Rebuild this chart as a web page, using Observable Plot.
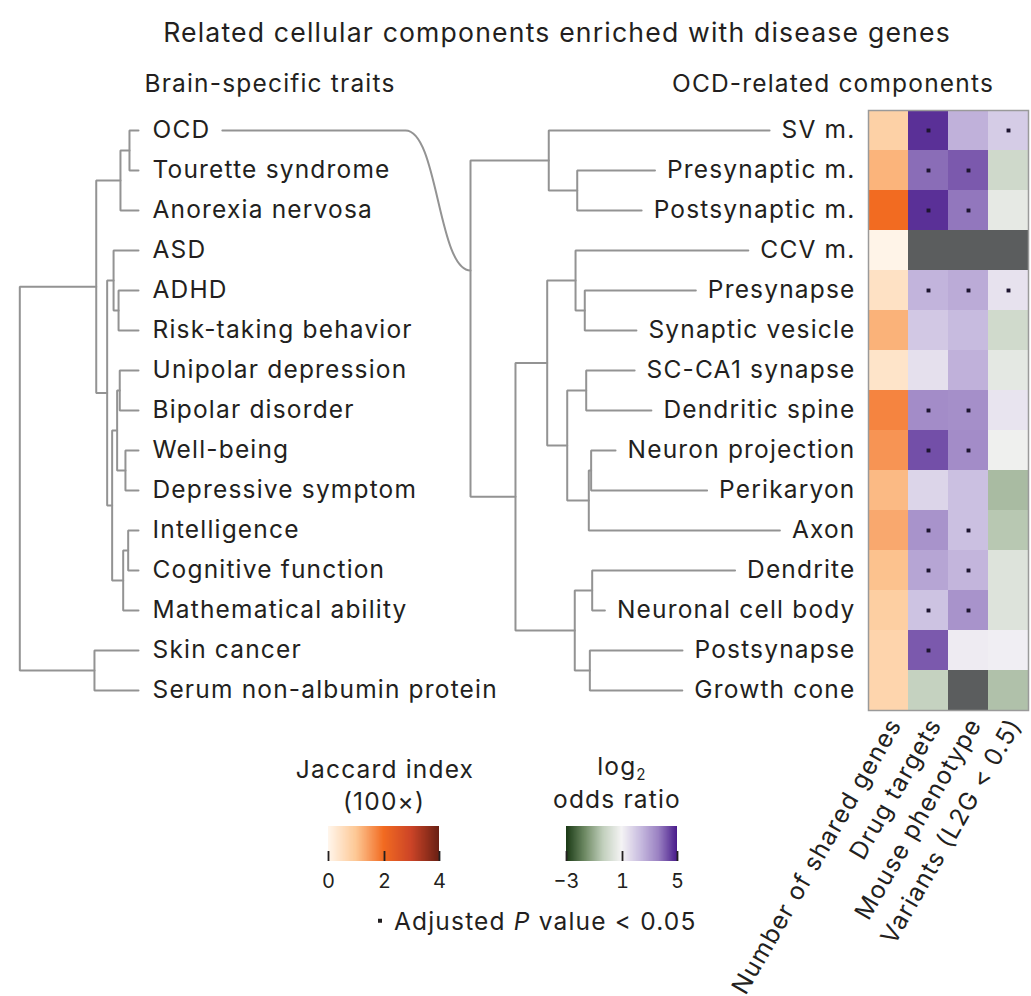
<!DOCTYPE html>
<html>
<head>
<meta charset="utf-8">
<script src="https://cdn.jsdelivr.net/npm/d3@7"></script>
<script src="https://cdn.jsdelivr.net/npm/@observablehq/plot@0.6"></script>
<style>
  body { margin: 0; background: #fff; }
  #chart { position: relative; width: 1031px; height: 996px; overflow: hidden; color: #231f20; font-family: Inter, "Open Sans", sans-serif; }
  #chart > svg { position: absolute; left: 0; top: 0; }
  .t { position: absolute; white-space: nowrap; transform: translate(-50%, -50%); line-height: 1; }
  .t sub { font-size: 0.62em; vertical-align: -0.35em; line-height: 0; }
</style>
</head>
<body>
<div id="chart"></div>
<script>
// ---------------- data ----------------
const traits = ["OCD", "Tourette syndrome", "Anorexia nervosa", "ASD", "ADHD", "Risk-taking behavior",
  "Unipolar depression", "Bipolar disorder", "Well-being", "Depressive symptom", "Intelligence",
  "Cognitive function", "Mathematical ability", "Skin cancer", "Serum non-albumin protein"];
// linkage: [child a, child b, merge height]; ids >= 15 are earlier merges (in order)
const traitLinkage = [
  [0, 1, 0.076], [15, 2, 0.152], [4, 5, 0.168], [3, 17, 0.21], [6, 7, 0.158], [8, 9, 0.11],
  [19, 20, 0.18], [10, 11, 0.087], [22, 12, 0.129], [21, 23, 0.222], [18, 24, 0.264],
  [16, 25, 0.356], [13, 14, 0.371], [26, 27, 1.0]
];
const components = ["SV m.", "Presynaptic m.", "Postsynaptic m.", "CCV m.", "Presynapse",
  "Synaptic vesicle", "SC-CA1 synapse", "Dendritic spine", "Neuron projection", "Perikaryon",
  "Axon", "Dendrite", "Neuronal cell body", "Postsynapse", "Growth cone"];
const componentLinkage = [
  [1, 2, 0.179], [0, 15, 0.398], [4, 5, 0.121], [3, 17, 0.192], [6, 7, 0.11], [8, 9, 0.072],
  [20, 10, 0.09], [19, 21, 0.256], [18, 22, 0.41], [11, 12, 0.064], [13, 14, 0.082],
  [24, 25, 0.198], [23, 26, 0.654], [16, 27, 1.0]
];
// OCD trait links to the component tree root
const connectorTrait = "OCD";
const connectorRootRow = 3.5;
const connectorBendHeight = 1.5;

const columns = ["Number of shared genes", "Drug targets", "Mouse phenotype", "Variants (L2G < 0.5)"];
const jaccard        = [0.8, 1.22, 2.0, 0.05, 0.46, 1.24, 0.4, 1.73, 1.56, 1.15, 1.34, 1.06, 0.85, 0.74, 0.72];
const drugTargets    = [4.6, 3.42, 4.6, null, 2.15, 1.8, 1.36, 2.83, 4.0, 1.57, 2.72, 2.41, 1.9, 3.8, 0.06];
const mousePhenotype = [2.2, 3.8, 3.22, null, 2.3, 2.04, 2.2, 2.78, 2.83, 1.95, 1.95, 2.13, 2.72, 1.16, null];
const variants       = [1.73, 0.25, 0.7, null, 1.32, 0.27, 0.67, 1.3, 0.88, -0.3, -0.12, 0.53, 0.53, 1.11, -0.21];
const drugSig    = [1, 1, 1, 0, 1, 0, 0, 1, 1, 0, 1, 1, 1, 1, 0];
const mouseSig   = [0, 1, 1, 0, 1, 0, 0, 1, 1, 0, 1, 1, 1, 0, 0];
const variantSig = [1, 0, 0, 0, 1, 0, 0, 0, 0, 0, 0, 0, 0, 0, 0];
const jaccardTicks = [0, 2, 4];
const oddsTicks = [-3, 1, 5];

// ---------------- styles ----------------
const FONT = "Inter, 'Open Sans', sans-serif";
const INK = "#231f20";
const LINE = "#939393";
const FS = 24.5;
const ctx = document.createElement("canvas").getContext("2d");
function rawW(s, size) { ctx.font = `${size}px Inter`; return ctx.measureText(s).width; }
const LS = Math.max(-0.5, Math.min(2, (238 - rawW("Tourette syndrome", FS)) / 17));
function textW(s, size = FS) { return rawW(s, size) + LS * s.length; }
const TITLE = "Related cellular components enriched with disease genes";
const titleSize = FS * (788 - LS * TITLE.length) / rawW(TITLE, FS);

const jaccardScale = {type: "linear", domain: [0, 1, 2, 3, 4],
  range: ["#fff6ec", "#fdc895", "#f26b21", "#cc4427", "#6a2014"], interpolate: "rgb"};
const oddsScale = {type: "linear", domain: [-3, -1, 0, 1, 2, 3, 5],
  range: ["#1b3a16", "#6e8a64", "#c2d0bd", "#f5f4f5", "#c9bde0", "#9b82c3", "#4a1c8c"], interpolate: "rgb"};

const chart = document.getElementById("chart");
const W = 1031, H = 996;
const yRows = {domain: [-0.5, 14.5], range: [110, 710], axis: null};
const baseStyle = {background: "transparent", fontFamily: FONT, fontSize: FS + "px", color: INK, letterSpacing: LS + "px", overflow: "visible"};

// ---------------- dendrogram helper ----------------
function elbows(n, linkage, leafEnd) {
  const y = d3.range(n), h = d3.range(n).map(i => leafEnd ? leafEnd[i] : 0);
  const pts = [];
  linkage.forEach(([a, b, hh], k) => {
    pts.push({x: h[a], y: y[a], z: k}, {x: hh, y: y[a], z: k}, {x: hh, y: y[b], z: k}, {x: h[b], y: y[b], z: k});
    y.push((y[a] + y[b]) / 2);
    h.push(hh);
  });
  return pts;
}

// left dendrogram
const xlOpt = {domain: [1, 0], range: [19.3, 138], axis: null};
const xl = d3.scaleLinear(xlOpt.domain, xlOpt.range);
const leftPlot = Plot.plot({
  width: W, height: H, x: xlOpt, y: yRows, style: baseStyle,
  marks: [
    Plot.line(elbows(traits.length, traitLinkage), {x: "x", y: "y", z: "z", stroke: LINE, strokeWidth: 2, strokeLinejoin: "miter"}),
    Plot.text(traits, {x: 0, y: (d, i) => i, text: d => d, textAnchor: "start", dx: 14, fill: INK})
  ]
});
chart.appendChild(leftPlot);

// right dendrogram
const xrOpt = {domain: [1, 0], range: [470, 600], axis: null};
const xr = d3.scaleLinear(xrOpt.domain, xrOpt.range);
const labelRight = W - 176;
const leafEnd = components.map(c => xr.invert(labelRight - textW(c) - 12));
const ocdRow = traits.indexOf(connectorTrait);
const ocdEndPx = xl(0) + 14 + textW(connectorTrait) + 12;
const connector = [
  {x: xr.invert(ocdEndPx), y: ocdRow},
  {x: connectorBendHeight, y: ocdRow},
  {x: 1, y: connectorRootRow}
];
const rightPlot = Plot.plot({
  width: W, height: H, marginRight: 176, x: xrOpt, y: yRows, style: baseStyle,
  marks: [
    Plot.line(elbows(components.length, componentLinkage, leafEnd), {x: "x", y: "y", z: "z", stroke: LINE, strokeWidth: 2, strokeLinejoin: "miter"}),
    Plot.line(connector, {x: "x", y: "y", curve: "bump-x", stroke: LINE, strokeWidth: 2}),
    Plot.text(components, {y: (d, i) => i, text: d => d, frameAnchor: "right", textAnchor: "end", fill: INK})
  ]
});
chart.appendChild(rightPlot);

// heatmap
const heatLayout = {width: W, height: H, marginLeft: 868, marginRight: 3, marginTop: 110, marginBottom: 286};
const jCells = components.map((c, i) => ({col: columns[0], row: c, v: jaccard[i]}));
const oCells = [];
[[drugTargets, drugSig], [mousePhenotype, mouseSig], [variants, variantSig]].forEach(([vals, sig], k) => {
  components.forEach((c, i) => oCells.push({col: columns[k + 1], row: c, v: vals[i], sig: !!sig[i]}));
});
const heatA = Plot.plot({
  ...heatLayout, style: baseStyle,
  x: {domain: columns, padding: 0, axis: null},
  y: {domain: components, padding: 0, axis: null},
  color: jaccardScale,
  marks: [Plot.cell(jCells, {x: "col", y: "row", fill: "v", shapeRendering: "crispEdges"})]
});
chart.appendChild(heatA);
const heatB = Plot.plot({
  ...heatLayout, style: baseStyle,
  x: {domain: columns, padding: 0, label: null},
  y: {domain: components, padding: 0, axis: null},
  color: oddsScale,
  marks: [
    Plot.cell(oCells.filter(d => d.v !== null), {x: "col", y: "row", fill: "v", shapeRendering: "crispEdges"}),
    Plot.cell(oCells.filter(d => d.v === null), {x: "col", y: "row", fill: "#5b5d5e", shapeRendering: "crispEdges"}),
    Plot.dot(oCells.filter(d => d.sig), {x: "col", y: "row", symbol: "square", r: 2.2, fill: "#1d1530"}),
    Plot.frame({stroke: "#9a9a9a", strokeWidth: 1.5}),
    Plot.axisX({anchor: "bottom", label: null, tickRotate: -60, tickSize: 0, tickPadding: 10, dx: 7, fontSize: FS, fill: INK})
  ]
});
chart.appendChild(heatB);

// ---------------- html texts ----------------
function addText(html, cx, cy, size = FS, extra = "") {
  const d = document.createElement("div");
  d.className = "t";
  d.innerHTML = html;
  d.style.cssText += `left:${cx}px;top:${cy}px;font-size:${size}px;letter-spacing:${LS}px;${extra}`;
  chart.appendChild(d);
  return d;
}
addText(TITLE, 557, 32, titleSize);
addText("Brain-specific traits", 270, 83);
addText("OCD-related components", 833, 83);
addText("Jaccard index", 385, 769);
addText("(100×)", 384, 801);
addText("log<sub>2</sub>", 622, 766);
addText("odds ratio", 617, 799);
const p = addText(`<span style="display:inline-block;width:4px;height:4px;background:${INK};vertical-align:middle;margin-right:12px;position:relative;top:-2px"></span>Adjusted <i>P</i> value &lt; 0.05`, 378, 921);
p.style.transform = "translate(0,-50%)";

// ---------------- legends ----------------
function ramp(scale, ticks, left) {
  const svg = Plot.legend({
    color: scale, label: null, ticks, tickSize: 10, tickFormat: d3.format("d"),
    width: 135, height: 69, marginTop: 0, marginBottom: 34, marginLeft: 12, marginRight: 12,
    style: {background: "transparent", fontFamily: FONT, fontSize: "20px", color: INK, overflow: "visible"}
  });
  svg.style.position = "absolute";
  svg.style.left = left + "px";
  svg.style.top = "826px";
  d3.select(svg).selectAll(".tick line").attr("y1", -10).attr("y2", 0).attr("stroke", INK).attr("stroke-width", 1.8);
  d3.select(svg).selectAll(".tick text").attr("fill", INK);
  chart.appendChild(svg);
}
ramp(jaccardScale, jaccardTicks, 316);
ramp(oddsScale, oddsTicks, 554);
</script>
</body>
</html>
